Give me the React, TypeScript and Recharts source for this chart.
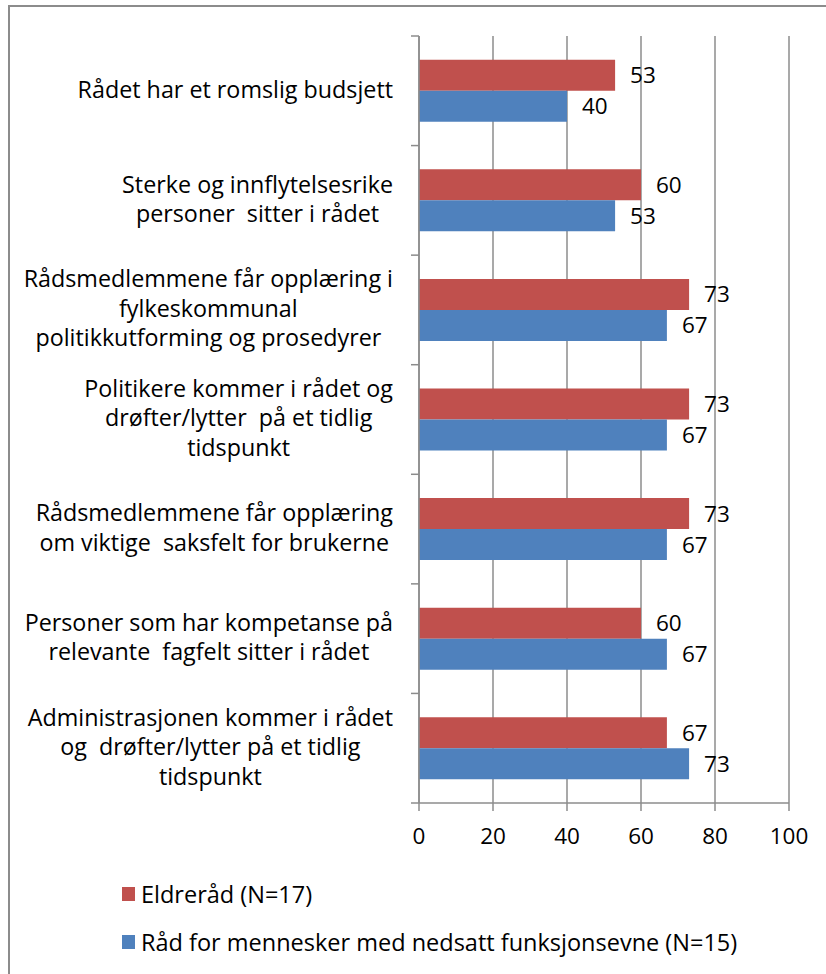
import React from 'react';
import { BarChart, Bar, XAxis, YAxis, CartesianGrid, LabelList } from 'recharts';

const categories = [
  'Rådet har et romslig budsjett',
  'Sterke og innflytelsesrike\npersoner  sitter i rådet',
  'Rådsmedlemmene får opplæring i\nfylkeskommunal\npolitikkutforming og prosedyrer',
  'Politikere kommer i rådet og\ndrøfter/lytter  på et tidlig\ntidspunkt',
  'Rådsmedlemmene får opplæring\nom viktige  saksfelt for brukerne',
  'Personer som har kompetanse på\nrelevante  fagfelt sitter i rådet',
  'Administrasjonen kommer i rådet\nog  drøfter/lytter på et tidlig\ntidspunkt',
];
const eldreraad = [53, 60, 73, 73, 73, 60, 67];
const nedsatt = [40, 53, 67, 67, 67, 67, 73];
const xTicks = [0, 20, 40, 60, 80, 100];

const series = [
  { key: 'eldre', name: 'Eldreråd (N=17)', color: '#C0504D' },
  { key: 'nedsatt', name: 'Råd for mennesker med nedsatt funksjonsevne (N=15)', color: '#4F81BD' },
];

const data = categories.map((name, i) => ({ name, eldre: eldreraad[i], nedsatt: nedsatt[i] }));

const FONT = '"Open Sans", Lato, sans-serif';
const GRID = '#8c8c8c';
const W = 826;
const H = 974;
const TOP = 36;
const LEFT = 419;
const PLOT_H = 767;
const CAT_SIZE = 23.3;
const NUM_SIZE = 22.5;

let ctx: CanvasRenderingContext2D | null = null;
function textWidth(s: string) {
  if (!ctx) ctx = document.createElement('canvas').getContext('2d');
  if (!ctx) return s.length * 10;
  ctx.font = `${CAT_SIZE}px ${FONT}`;
  return ctx.measureText(s).width;
}

const CategoryTick = (props: any) => {
  const { y, payload } = props;
  const lines: string[] = String(payload.value).split('\n');
  const maxW = Math.max(...lines.map(textWidth));
  const cx = 393 - maxW / 2;
  const lh = 29.5;
  const band = PLOT_H / categories.length;
  const first = y - ((lines.length - 1) / 2) * lh;
  return (
    <g>
      <line x1={LEFT - 8} x2={LEFT} y1={y - band / 2} y2={y - band / 2} stroke={GRID} strokeWidth={1.5} />
      {payload.index === categories.length - 1 && (
        <line x1={LEFT - 8} x2={LEFT} y1={y + band / 2} y2={y + band / 2} stroke={GRID} strokeWidth={1.5} />
      )}
      <text textAnchor="middle" fontFamily={FONT} fontSize={CAT_SIZE} fill="#000">
        {lines.map((l, i) => (
          <tspan key={i} x={cx} y={first + i * lh} dy="0.3em" style={{ whiteSpace: 'pre' }}>
            {l}
          </tspan>
        ))}
      </text>
    </g>
  );
};

export default function App() {
  return (
    <div style={{ position: 'absolute', left: 0, top: 0, width: W, height: H, background: '#fff', overflow: 'hidden' }}>
      <div
        style={{
          position: 'absolute',
          left: 8,
          top: 5,
          width: W,
          height: H,
          borderTop: `2px solid ${GRID}`,
          borderLeft: `2px solid ${GRID}`,
        }}
      />
      <div style={{ position: 'absolute', left: 0, top: 0 }}>
        <BarChart
          width={W}
          height={H}
          data={data}
          layout="vertical"
          margin={{ top: TOP, right: 37, bottom: 111, left: 0 }}
          barCategoryGap="21.7%"
          barGap={0}
        >
          <CartesianGrid horizontal={false} stroke={GRID} strokeWidth={1.5} />
          <XAxis
            type="number"
            domain={[0, 100]}
            ticks={xTicks}
            height={60}
            axisLine={{ stroke: GRID, strokeWidth: 1.5 }}
            tickLine={{ stroke: GRID, strokeWidth: 1.5 }}
            tickSize={8}
            tickMargin={17}
            tick={{ fill: '#000', fontSize: NUM_SIZE, fontFamily: FONT }}
            interval={0}
          />
          <YAxis
            type="category"
            dataKey="name"
            width={LEFT}
            axisLine={{ stroke: GRID, strokeWidth: 1.5 }}
            tickLine={false}
            tick={<CategoryTick />}
            interval={0}
          />
          {series.map((s) => (
            <Bar key={s.key} dataKey={s.key} name={s.name} fill={s.color} isAnimationActive={false}>
              <LabelList
                dataKey={s.key}
                position="right"
                offset={15}
                fill="#000"
                fontSize={NUM_SIZE}
                fontFamily={FONT}
              />
            </Bar>
          ))}
        </BarChart>
      </div>
      <div style={{ position: 'absolute', left: 122, top: 879, fontFamily: FONT, fontSize: 23.5, color: '#000' }}>
        {series.map((s, i) => (
          <div key={s.key} style={{ display: 'flex', alignItems: 'center', height: 30, marginBottom: i === 0 ? 18 : 0 }}>
            <span style={{ display: 'inline-block', width: 13, height: 14, background: s.color, marginRight: 6 }} />
            <span style={{ whiteSpace: 'nowrap' }}>{s.name}</span>
          </div>
        ))}
      </div>
    </div>
  );
}
